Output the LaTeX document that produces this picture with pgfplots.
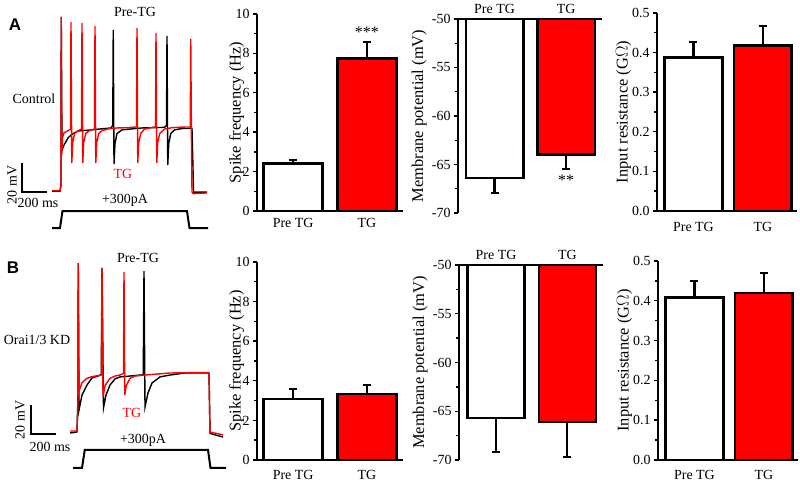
\documentclass[border=0pt]{standalone}
\usepackage{pgfplots}
\pgfplotsset{compat=1.18}
\usepackage{fontspec}
\setmainfont{Liberation Serif}
\newfontfamily\panelfont{Liberation Sans}

\definecolor{tgred}{RGB}{255,0,0}

\pgfplotsset{
  trace/.style={scale only axis, hide axis, clip=false, anchor=south west},
  barbase/.style={
    scale only axis, anchor=south west,
    axis x line=bottom, axis y line=left,
    tick align=outside, major tick length=4bp, minor tick length=3bp,
    ytick style={line width=1.4bp, black},
    xtick style={draw=none},
    minor y tick num=1,
    xtick={0,1}, xticklabels={Pre TG,TG},
    ticklabel style={font=\fontsize{14}{16}\selectfont},
    label style={font=\fontsize{16.5}{18}\selectfont},
    every axis plot post/.append style={line width=2.6bp},
  },
  thickaxis/.style={
    every outer x axis line/.append style={-, line width=2.4bp},
    every outer y axis line/.append style={-, line width=2.4bp},
    axis line style={-, line width=2.4bp}},
  tgbar/.style={ybar, bar width=0.8, draw=black, line width=2.6bp,
    error bars/y dir=plus, error bars/y explicit,
    error bars/error bar style={line width=2.2bp, black},
    error bars/error mark options={rotate=90, line width=2.2bp, black, mark size=4bp}},
}

\begin{document}
\begin{tikzpicture}
\path[use as bounding box] (0,0) rectangle (800bp,482bp);

% ---------- A: traces ----------
\begin{axis}[trace, at={(0bp,247bp)}, width=215bp, height=230bp,
  xmin=-416, xmax=1304, ymin=-101, ymax=57.6]
\addplot[black, line width=1.4bp] coordinates {
 (0,-70.7) (64,-70.7) (72,-66.6) (74,49.4) (80,-42.4) (96,-39) (128,-34.1)
 (160,-31.4) (208,-29.3) (304,-28.6) (384,-27.9) (472,-27.2) (486,-25.5)
 (490,40.4) (496,-52.1) (504,-38) (520,-31) (560,-28.5) (640,-27.8)
 (720,-27.2) (800,-27) (900,-26.8) (916,-25.5) (920,36.3) (926,-52.8)
 (934,-38) (950,-31) (980,-28.5) (1040,-27.6) (1120,-27.5) (1128,-55)
 (1132,-71.4) (1240,-71.4)};
\addplot[tgred, line width=1.4bp] coordinates {
 (0,-70.3) (64,-70.3) (72,-66) (74,49.4) (78,-46) (84,-34) (96,-30.5)
 (120,-29.5) (148,-28) (152,45.9) (158,-51.4) (166,-37) (180,-31)
 (210,-29) (236,-28) (240,45.2) (246,-51.4) (254,-37) (270,-31) (300,-29)
 (340,-28) (344,43.2) (350,-51.4) (358,-37) (374,-31) (400,-29)
 (450,-27.8) (520,-27.2) (600,-27) (676,-26.5) (680,41.8) (686,-51.4)
 (694,-37) (710,-31) (740,-28) (790,-27) (828,-26.5) (832,38.3)
 (838,-51.4) (846,-37) (862,-31) (900,-28) (960,-27) (1040,-26.6)
 (1106,-26.5) (1110,34.2) (1116,-40) (1120,-71.4) (1130,-72.5) (1240,-72)};
% current step
\addplot[black, line width=2bp] coordinates {
 (0,-96.2) (64,-96.2) (84,-84.5) (1080,-84.5) (1100,-96.2) (1248,-96.2)};
% scale bar 20 mV / 200 ms
\addplot[black, line width=2bp] coordinates {
 (-240,-51.4) (-240,-71.4) (-40,-71.4)};
\end{axis}

% ---------- B: traces ----------
\begin{axis}[trace, at={(0bp,7bp)}, width=230bp, height=225bp,
  xmin=-560, xmax=1280, ymin=-99.7, ymax=55.6]
\addplot[black, line width=1.4bp] coordinates {
 (0,-70.7) (56,-70) (64,-44.5) (66,46.6) (72,-54.8) (96,-44.5) (136,-37.6)
 (176,-32.7) (224,-31.4) (250,-30.5) (256,43.2) (268,-53.4) (288,-44.5)
 (320,-37.6) (360,-33.4) (400,-32) (480,-31.4) (586,-30.5) (592,41.1)
 (600,-52.8) (624,-43.1) (656,-36.2) (720,-32) (800,-30.7) (920,-29.3)
 (1112,-29.3) (1120,-71) (1224,-73.5)};
\addplot[tgred, line width=1.4bp] coordinates {
 (0,-69.3) (56,-69.3) (64,-48) (66,46.6) (72,-42) (96,-36) (136,-33)
 (176,-31.8) (230,-31) (252,-30.5) (256,43.2) (264,-45.8) (280,-38)
 (320,-33) (360,-31.4) (400,-30.7) (428,-29.5) (432,40.4) (438,-44.5)
 (450,-38) (480,-33) (520,-31.4) (600,-30.7) (700,-30) (800,-29.3)
 (1000,-29) (1112,-29) (1120,-70) (1224,-72)};
\addplot[black, line width=2bp] coordinates {
 (24,-94.8) (96,-94.8) (118,-82.4) (1104,-82.4) (1124,-94.8) (1248,-94.8)};
\addplot[black, line width=2bp] coordinates {
 (-312,-51.4) (-312,-71.4) (-112,-71.4)};
\end{axis}

% trace annotations
\begin{scope}[font=\fontsize{14}{16}\selectfont]
\node[font=\panelfont\bfseries\fontsize{17}{19}\selectfont] at (15bp,457bp) {A};
\node at (135bp,470bp) {Pre-TG};
\node at (34bp,383bp) {Control};
\node[text=tgred] at (123bp,308bp) {TG};
\node[rotate=90] at (12bp,297bp) {20 mV};
\node at (38bp,279bp) {200 ms};
\node at (125bp,282bp) {+300pA};
\node[font=\panelfont\bfseries\fontsize{17}{19}\selectfont] at (13bp,214bp) {B};
\node at (138bp,224bp) {Pre-TG};
\node at (37bp,142bp) {Orai1/3 KD};
\node[text=tgred] at (132bp,69bp) {TG};
\node[rotate=90] at (20bp,62bp) {20 mV};
\node at (50bp,35bp) {200 ms};
\node at (143bp,42bp) {+300pA};
\end{scope}

% ---------- A: bar charts ----------
\begin{axis}[barbase, thickaxis, at={(257bp,271bp)}, width=146bp, height=197bp,
  xmin=-0.49, xmax=1.49, ymin=0, ymax=10,
  ytick={0,2,...,10}, yticklabels={0,2,4,6,8,10},
  ylabel={Spike frequency (Hz)},
  ylabel style={at={(axis description cs:-0.14,0.5)}, anchor=center}]
\addplot[tgbar, fill=white] coordinates {(0,2.42) +- (0,0.17)};
\addplot[tgbar, fill=tgred] coordinates {(1,7.75) +- (0,0.82)};
\node[font=\fontsize{16}{18}\selectfont] at (axis cs:1,9.05) {***};
\end{axis}

\begin{axis}[barbase, axis x line=top, thickaxis, at={(458bp,269bp)}, width=144bp, height=194bp,
  xmin=-0.51, xmax=1.5, ymin=-70, ymax=-50,
  ytick={-70,-65,...,-50}, yticklabels={-70,-65,-60,-55,-50},
  ylabel={Membrane potential (mV)},
  ylabel style={at={(axis description cs:-0.27,0.5)}, anchor=center}]
\addplot[tgbar, fill=white, error bars/y dir=minus] coordinates {(0,-66.4) +- (0,1.5)};
\addplot[tgbar, fill=tgred, error bars/y dir=minus] coordinates {(1,-64.0) +- (0,1.5)};
\node[font=\fontsize{16}{18}\selectfont] at (axis cs:1,-66.6) {**};
\end{axis}

\begin{axis}[barbase, thickaxis, at={(657bp,271bp)}, width=140bp, height=198bp,
  xmin=-0.525, xmax=1.49, ymin=0, ymax=0.5,
  ytick={0,0.1,...,0.5}, yticklabels={0.0,0.1,0.2,0.3,0.4,0.5},
  xticklabel style={yshift=-4bp},
  ylabel={Input resistance (G$\Omega$)},
  ylabel style={at={(axis description cs:-0.24,0.5)}, anchor=center}]
\addplot[tgbar, fill=white, bar width=0.83] coordinates {(0,0.387) +- (0,0.040)};
\addplot[tgbar, fill=tgred, bar width=0.83] coordinates {(1,0.418) +- (0,0.049)};
\end{axis}

% ---------- B: bar charts ----------
\begin{axis}[barbase, thickaxis, at={(257bp,22bp)}, width=146bp, height=198bp,
  xmin=-0.49, xmax=1.49, ymin=0, ymax=10,
  ytick={0,2,...,10}, yticklabels={0,2,4,6,8,10},
  xticklabel style={yshift=-3bp},
  ylabel={Spike frequency (Hz)},
  ylabel style={at={(axis description cs:-0.14,0.5)}, anchor=center}]
\addplot[tgbar, fill=white] coordinates {(0,3.08) +- (0,0.50)};
\addplot[tgbar, fill=tgred] coordinates {(1,3.33) +- (0,0.45)};
\end{axis}

\begin{axis}[barbase, axis x line=top, thickaxis, at={(459bp,22bp)}, width=144bp, height=195bp,
  xmin=-0.52, xmax=1.5, ymin=-70, ymax=-50,
  ytick={-70,-65,...,-50}, yticklabels={-70,-65,-60,-55,-50},
  ylabel={Membrane potential (mV)},
  ylabel style={at={(axis description cs:-0.27,0.5)}, anchor=center}]
\addplot[tgbar, fill=white, error bars/y dir=minus] coordinates {(0,-65.7) +- (0,3.5)};
\addplot[tgbar, fill=tgred, error bars/y dir=minus] coordinates {(1,-66.1) +- (0,3.6)};
\end{axis}

\begin{axis}[barbase, thickaxis, at={(658bp,22bp)}, width=140bp, height=199bp,
  xmin=-0.525, xmax=1.49, ymin=0, ymax=0.5,
  ytick={0,0.1,...,0.5}, yticklabels={0.0,0.1,0.2,0.3,0.4,0.5},
  xticklabel style={yshift=-3bp},
  ylabel={Input resistance (G$\Omega$)},
  ylabel style={at={(axis description cs:-0.24,0.5)}, anchor=center}]
\addplot[tgbar, fill=white, bar width=0.83] coordinates {(0,0.409) +- (0,0.041)};
\addplot[tgbar, fill=tgred, bar width=0.83] coordinates {(1,0.420) +- (0,0.050)};
\end{axis}
\end{tikzpicture}
\end{document}
